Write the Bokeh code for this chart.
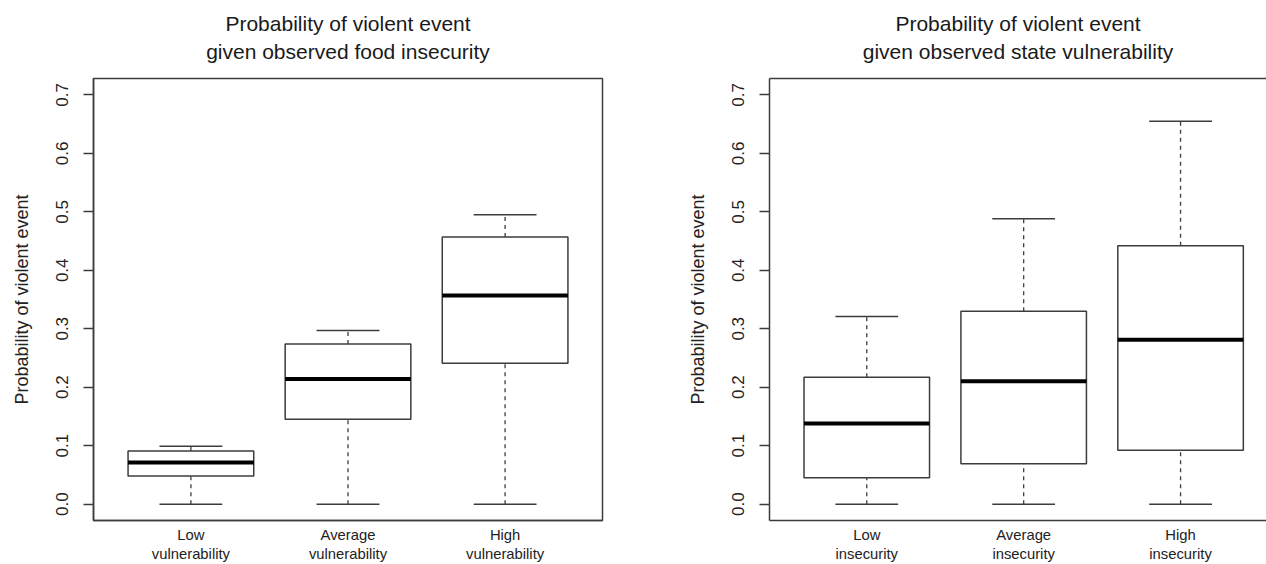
from bokeh.plotting import figure
from bokeh.models import Range1d, FixedTicker, Title, LinearAxis
from bokeh.layouts import row
from bokeh.embed import file_html
from bokeh.resources import INLINE

# ---- data ----
positions = [1, 2, 3]

left_title = ["Probability of violent event", "given observed food insecurity"]
left_cats = ["Low\nvulnerability", "Average\nvulnerability", "High\nvulnerability"]
left_low = [0.0, 0.0, 0.0]
left_q1 = [0.048, 0.145, 0.241]
left_median = [0.071, 0.214, 0.357]
left_q3 = [0.091, 0.274, 0.457]
left_high = [0.099, 0.297, 0.495]

right_title = ["Probability of violent event", "given observed state vulnerability"]
right_cats = ["Low\ninsecurity", "Average\ninsecurity", "High\ninsecurity"]
right_low = [0.0, 0.0, 0.0]
right_q1 = [0.045, 0.069, 0.092]
right_median = [0.138, 0.210, 0.281]
right_q3 = [0.217, 0.330, 0.442]
right_high = [0.321, 0.488, 0.655]

y_ticks = [0.0, 0.1, 0.2, 0.3, 0.4, 0.5, 0.6, 0.7]
y_label = "Probability of violent event"

FONT = "Liberation Sans"
LINE = "#3c3c3c"


def make_panel(title, cats, low, q1, med, q3, high, width, x_end, border_right, full_outline):
    p = figure(width=width, height=564, output_backend="svg", toolbar_location=None,
               x_range=Range1d(0.38, x_end), y_range=Range1d(-0.028, 0.728),
               min_border_left=93, min_border_right=border_right,
               min_border_top=78, min_border_bottom=42)
    p.title = None
    p.grid.visible = False
    p.background_fill_color = "white"
    p.border_fill_color = "white"

    ya = p.left[0]
    xa = p.below[0]

    # top axis: no ticks; its line is the top border (right panel), its label the 2nd title line
    top = LinearAxis(ticker=FixedTicker(ticks=[]), major_label_text_font_size="0px",
                     axis_line_color=None if full_outline else LINE, axis_line_width=1.5,
                     major_label_standoff=0, major_tick_out=0, major_tick_in=0,
                     major_tick_line_color=None, minor_tick_line_color=None,
                     axis_label=title[1], axis_label_standoff=16,
                     axis_label_text_font=FONT, axis_label_text_font_size="21px",
                     axis_label_text_font_style="normal", axis_label_text_color="#1a1a1a")
    p.add_layout(top, "above")
    if full_outline:
        p.outline_line_color = LINE
        p.outline_line_width = 1.5
    else:
        p.outline_line_color = None

    # y axis
    ya.ticker = FixedTicker(ticks=y_ticks)
    ya.major_label_overrides = {t: f"{t:.1f}" for t in y_ticks}
    ya.major_label_orientation = "vertical"
    ya.major_label_text_font = FONT
    ya.major_label_text_font_size = "17px"
    ya.major_label_text_color = "#222222"
    ya.major_tick_out = 10
    ya.major_tick_in = 0
    ya.major_tick_line_color = LINE
    ya.major_tick_line_width = 1.5
    ya.minor_tick_line_color = None
    ya.axis_line_color = LINE
    ya.axis_line_width = 1.5
    ya.major_label_standoff = 15
    ya.axis_label = y_label
    ya.axis_label_text_font = FONT
    ya.axis_label_text_font_size = "18px"
    ya.axis_label_text_font_style = "normal"
    ya.axis_label_text_color = "#222222"
    ya.axis_label_standoff = 22

    # x axis
    xa.ticker = FixedTicker(ticks=positions)
    xa.major_label_overrides = {pos: c for pos, c in zip(positions, cats)}
    xa.major_label_text_font = FONT
    xa.major_label_text_font_size = "14.8px"
    xa.major_label_text_color = "#222222"
    xa.major_tick_line_color = None
    xa.minor_tick_line_color = None
    xa.major_tick_out = 0
    xa.major_tick_in = 0
    xa.axis_line_color = LINE
    xa.axis_line_width = 1.5
    xa.major_label_standoff = 6

    # whiskers (dashed)
    p.segment(x0=positions, y0=q3, x1=positions, y1=high, line_color=LINE,
              line_width=1.3, line_dash="4 4")
    p.segment(x0=positions, y0=low, x1=positions, y1=q1, line_color=LINE,
              line_width=1.3, line_dash="4 4")
    # caps
    p.segment(x0=[x - 0.2 for x in positions], y0=high, x1=[x + 0.2 for x in positions], y1=high,
              line_color=LINE, line_width=1.5)
    p.segment(x0=[x - 0.2 for x in positions], y0=low, x1=[x + 0.2 for x in positions], y1=low,
              line_color=LINE, line_width=1.5)
    # boxes
    p.vbar(x=positions, width=0.8, bottom=q1, top=q3, fill_color="white",
           line_color=LINE, line_width=1.5)
    # medians
    p.segment(x0=[x - 0.4 for x in positions], y0=med, x1=[x + 0.4 for x in positions], y1=med,
              line_color="black", line_width=4)

    # first title line, above the second one
    p.add_layout(Title(text=title[0], align="center", text_font=FONT, text_font_size="21px",
                       text_font_style="normal", text_color="#1a1a1a", standoff=3),
                 "above")
    return p


p1 = make_panel(left_title, left_cats, left_low, left_q1, left_median, left_q3, left_high,
                width=676, x_end=3.62, border_right=74, full_outline=True)
p2 = make_panel(right_title, right_cats, right_low, right_q1, right_median, right_q3, right_high,
                width=590, x_end=0.38 + 497 / 156.9, border_right=0, full_outline=False)

layout = row(p1, p2)
open("out.html", "w").write(file_html(layout, INLINE))
